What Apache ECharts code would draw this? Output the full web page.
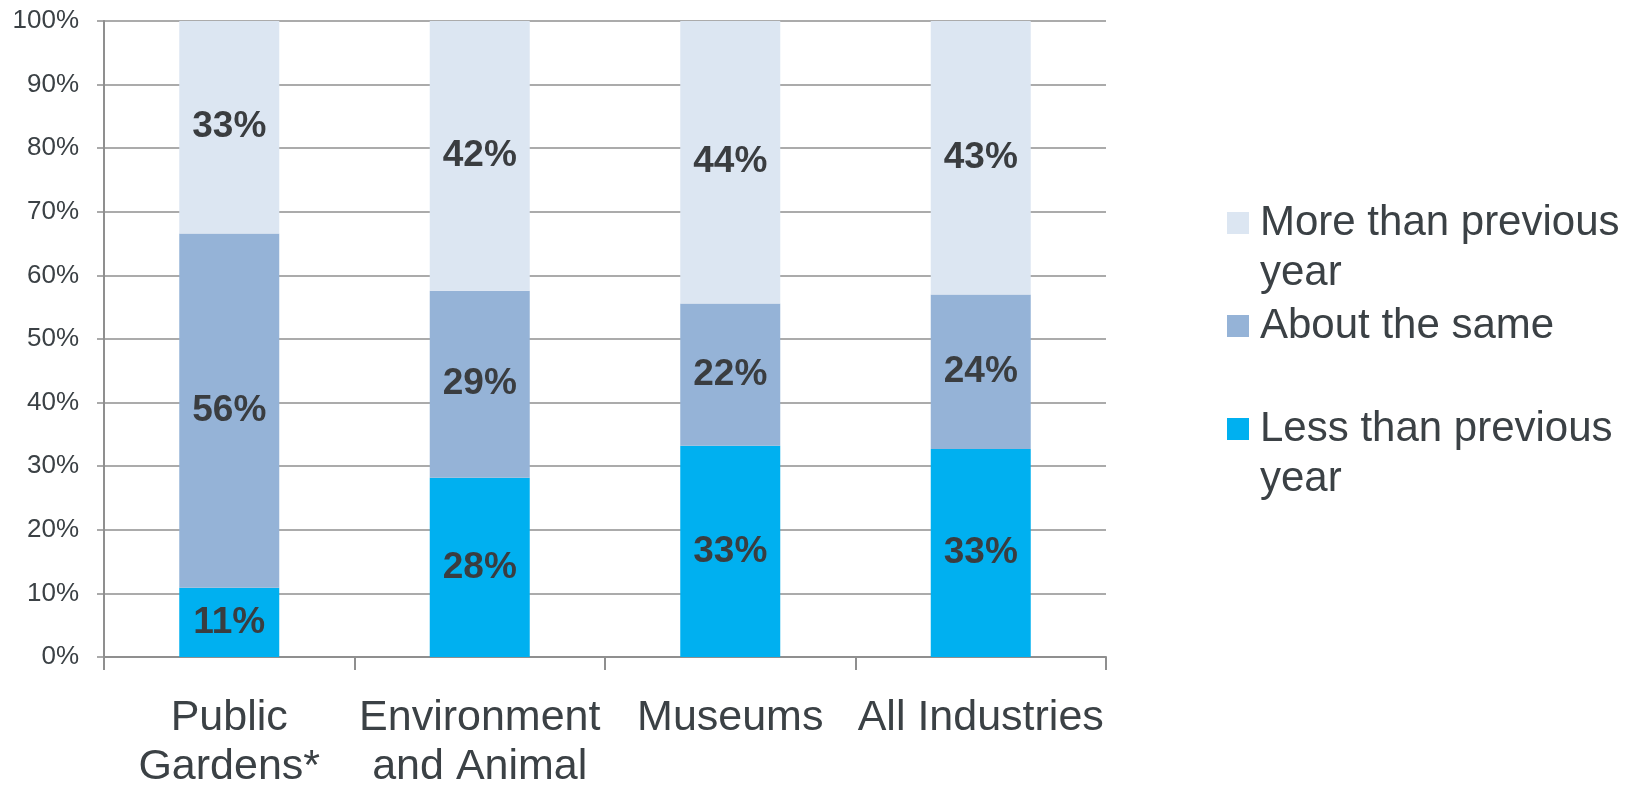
<!DOCTYPE html>
<html>
<head>
<meta charset="utf-8">
<script src="https://cdn.jsdelivr.net/npm/echarts@6/dist/echarts.min.js"></script>
<style>
html,body{margin:0;padding:0;background:#fff;overflow:hidden;}
#chart{width:1638px;height:792px;}
</style>
</head>
<body>
<div id="chart"></div>
<script>
var categories = ['Public\nGardens*', 'Environment\nand Animal', 'Museums', 'All Industries'];
var lessValues = [10.9, 28.2, 33.2, 32.7];
var sameValues = [55.7, 29.4, 22.4, 24.3];
var moreValues = [33.4, 42.4, 44.4, 43.0];
var yTicks = [0, 10, 20, 30, 40, 50, 60, 70, 80, 90, 100];
var legendNames = ['More than previous year', 'About the same', 'Less than previous year'];

var FONT = '"Liberation Sans", Arial, Helvetica, sans-serif';
var TEXT = '#3b4145';
var GRID = '#8f8f8f';

var chart = echarts.init(document.getElementById('chart'));

function labelCfg() {
  return {
    show: true,
    position: 'inside',
    fontFamily: FONT,
    fontSize: 37,
    fontWeight: 'bold',
    color: '#3a3d40',
    formatter: function (p) { return Math.round(p.value) + '%'; }
  };
}

chart.setOption({
  animation: false,
  backgroundColor: '#ffffff',
  grid: { left: 104, right: 532, top: 21, bottom: 129, containLabel: false },
  legend: {
    orient: 'vertical',
    left: 1227,
    top: 148,
    padding: 0,
    itemGap: 3,
    itemWidth: 22,
    itemHeight: 22,
    icon: 'rect',
    selectedMode: false,
    textStyle: { fontFamily: FONT, fontSize: 42, color: TEXT, lineHeight: 50, padding: [0, 0, 0, 6] },
    formatter: function (name) {
      return name.indexOf(' year') >= 0 ? '\n' + name.replace(' year', '\nyear') : name;
    },
    data: legendNames
  },
  xAxis: {
    type: 'category',
    data: categories,
    boundaryGap: true,
    axisLine: { show: true, lineStyle: { color: GRID, width: 2 } },
    axisTick: { show: true, length: 13, alignWithLabel: false, lineStyle: { color: GRID, width: 2 } },
    axisLabel: {
      interval: 0,
      margin: 37,
      fontFamily: FONT,
      fontSize: 43,
      lineHeight: 49,
      color: TEXT
    }
  },
  yAxis: {
    type: 'value',
    min: 0,
    max: 100,
    interval: 10,
    axisLine: { show: true, lineStyle: { color: GRID, width: 2 } },
    axisTick: { show: true, length: 7, inside: false, lineStyle: { color: GRID, width: 1.5 } },
    splitLine: { show: true, lineStyle: { color: GRID, width: 1.5 } },
    axisLabel: {
      margin: 25,
      fontFamily: FONT,
      fontSize: 26,
      color: TEXT,
      formatter: function (v) { return yTicks.indexOf(v) >= 0 ? v + '%' : ''; }
    }
  },
  series: [
    {
      name: legendNames[2], type: 'bar', stack: 'total', barWidth: 100,
      itemStyle: { color: '#00b0f0' }, label: labelCfg(), data: lessValues
    },
    {
      name: legendNames[1], type: 'bar', stack: 'total', barWidth: 100,
      itemStyle: { color: '#95b3d7' }, label: labelCfg(), data: sameValues
    },
    {
      name: legendNames[0], type: 'bar', stack: 'total', barWidth: 100,
      itemStyle: { color: '#dce6f2' }, label: labelCfg(), data: moreValues
    }
  ]
});
</script>
</body>
</html>
